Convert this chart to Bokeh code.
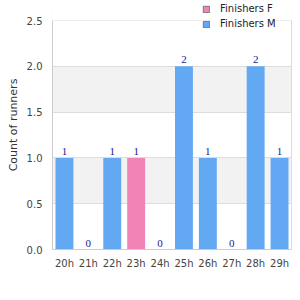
from bokeh.plotting import figure
from bokeh.models import (ColumnDataSource, Legend, LegendItem, LabelSet, Title, BoxAnnotation,
                          NumeralTickFormatter, LinearAxis, FixedTicker)
from bokeh.embed import file_html
from bokeh.resources import INLINE

hours = ["20h", "21h", "22h", "23h", "24h", "25h", "26h", "27h", "28h", "29h"]
finishers_f = [0, 0, 0, 1, 0, 0, 0, 0, 0, 0]
finishers_m = [1, 0, 1, 0, 0, 2, 1, 0, 2, 1]
totals = [f + m for f, m in zip(finishers_f, finishers_m)]
y_ticks = [0, 0.5, 1.0, 1.5, 2.0, 2.5]

COL_F = "#f283b6"
COL_M = "#62a8f2"

src = ColumnDataSource(dict(hours=hours, f=finishers_f, m=finishers_m,
                            total=totals, label=[str(t) for t in totals]))

# frame runs to the top of the canvas so the legend can sit over the corner;
# 2.5 lands 20 px below the top
y_top = 2.5
y_end = y_top * 249 / 229

p = figure(x_range=hours, y_range=(0, y_end), width=300, height=300,
           output_backend="svg", toolbar_location=None,
           min_border_left=51, min_border_right=9, min_border_top=0, min_border_bottom=51)

# keep the strip above the top tick plain white
p.add_layout(BoxAnnotation(bottom=y_top, fill_color="white", fill_alpha=1.0,
                           line_color=None, level="underlay"))

rf = p.vbar(x="hours", top="f", width=0.75, source=src, color=COL_F, line_color=None)
rm = p.vbar(x="hours", top="m", width=0.75, source=src, color=COL_M, line_color=None)

# legend swatches only (top is NaN, so nothing is drawn in the plot)
swatch = ColumnDataSource(dict(hours=[hours[0]], top=[float("nan")]))
lf = p.vbar(x="hours", top="top", width=0.75, source=swatch, fill_color=COL_F, line_color="#777777")
lm = p.vbar(x="hours", top="top", width=0.75, source=swatch, fill_color=COL_M, line_color="#777777")

labels = LabelSet(x="hours", y="total", text="label", source=src, text_align="center",
                  text_baseline="bottom", y_offset=3, text_font_size="11px",
                  text_color="#1a1a8c", text_font="DejaVu Sans")
p.add_layout(labels)

p.outline_line_color = None
p.xgrid.grid_line_color = None
p.ygrid.ticker = FixedTicker(ticks=y_ticks)
p.ygrid.grid_line_color = "#dddddd"
p.ygrid.band_fill_color = "#f2f2f2"
p.ygrid.band_fill_alpha = 1.0
p.yaxis.ticker = FixedTicker(ticks=y_ticks)
p.yaxis.bounds = (0, y_top)
p.yaxis.formatter = NumeralTickFormatter(format="0.0")
for ax in (p.xaxis, p.yaxis):
    ax.major_tick_line_color = None
    ax.minor_tick_line_color = None
    ax.major_tick_out = 0
    ax.major_tick_in = 0
    ax.minor_tick_out = 0
    ax.minor_tick_in = 0
    ax.axis_line_color = "#cccccc"
    ax.major_label_text_font_size = "10px"
    ax.major_label_text_color = "#444444"
    ax.major_label_text_font = "DejaVu Sans"
p.yaxis.major_label_standoff = 10
p.xaxis.major_label_standoff = 8

ylabel = Title(text="Count of runners", align="center", offset=-10, standoff=8,
               text_font_size="11px", text_font_style="normal", text_color="#333333",
               text_font="DejaVu Sans")
p.add_layout(ylabel, "left")

right_axis = LinearAxis(bounds=(0, y_top), ticker=FixedTicker(ticks=[]),
                        major_tick_line_color=None, minor_tick_line_color=None,
                        major_tick_out=0, major_tick_in=0,
                        major_label_text_font_size="0px", axis_line_color="#dddddd")
p.add_layout(right_axis, "right")

legend = Legend(items=[LegendItem(label="Finishers F", renderers=[lf]),
                       LegendItem(label="Finishers M", renderers=[lm])],
                location=(150, 219))
legend.border_line_color = None
legend.background_fill_color = "white"
legend.background_fill_alpha = 1.0
legend.label_text_font_size = "10px"
legend.label_text_font = "DejaVu Sans"
legend.label_text_color = "#222222"
legend.glyph_width = 8
legend.glyph_height = 8
legend.label_standoff = 10
legend.spacing = 2
legend.label_height = 13
legend.padding = 2
legend.margin = 0
p.add_layout(legend)

open("out.html", "w").write(file_html(p, INLINE))
